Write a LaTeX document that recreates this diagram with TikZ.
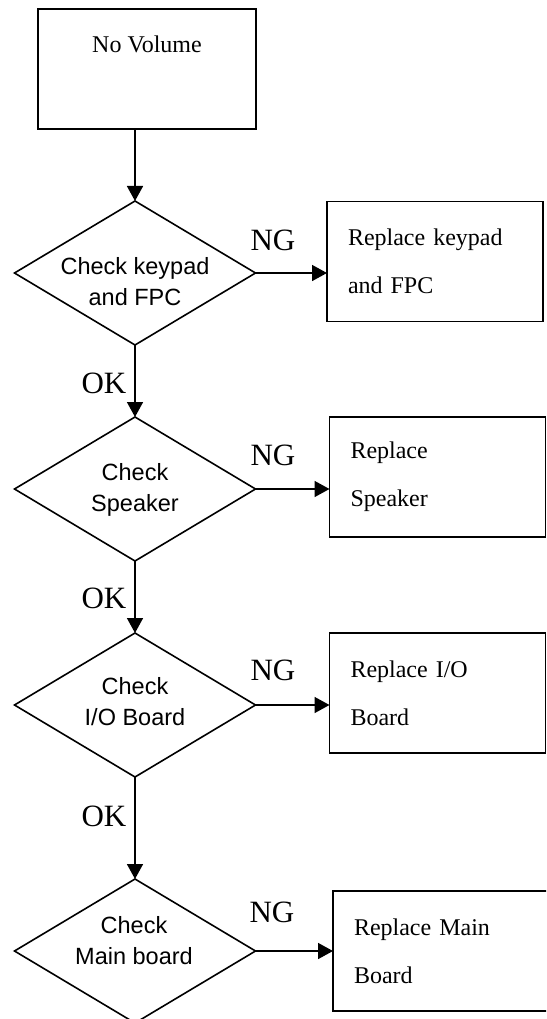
\documentclass[tikz,border=0pt]{standalone}
\usepackage{fontspec}
\setmainfont{Liberation Serif}
\newfontfamily\arialfont{Liberation Sans}
\usetikzlibrary{shapes.geometric,arrows.meta}
\begin{document}
\begin{tikzpicture}[x=1pt,y=-1pt,
  boxnode/.style={draw, line width=1.8pt, rectangle, minimum width=216pt, minimum height=120pt,
    inner ysep=0pt, inner xsep=21pt, outer sep=0pt, text width=174pt, align=left,
    font=\fontsize{24}{48}\selectfont},
  dia/.style={draw, line width=1.6pt, diamond, minimum width=241pt, minimum height=144pt, inner sep=0pt, outer sep=0pt},
  dtext/.style={font=\arialfont\fontsize{23.5}{31}\selectfont, align=center, inner sep=0pt},
  lbl/.style={font=\fontsize{31}{31}\selectfont, inner sep=0pt},
  arr/.style={line width=1.6pt, -{Triangle[length=15pt,width=16pt]}}
]
\useasboundingbox (0,0) rectangle (546,1019);
\clip (0,0) rectangle (546,1019);

% start box
\node[draw, line width=1.8pt, rectangle, minimum width=218pt, minimum height=120pt, inner sep=0pt, outer sep=0pt] (start) at (147,69) {};
\node[font=\fontsize{24}{30}\selectfont, inner sep=0pt] (starttext) at (147,44) {No Volume};

% diamonds
\node[dia] (d1) at (135,273) {};
\node[dia] (d2) at (135,489) {};
\node[dia] (d3) at (135,705) {};
\node[dia] (d4) at (135,951) {};

\node[dtext] (t1) at (135,281.5) {Check keypad\\and FPC};
\node[dtext] (t2) at (135,489.5) {Check\\Speaker};
\node[dtext] (t3) at (135,702) {Check\\I/O Board};
\node[dtext] (t4) at (134,941) {Check\\Main board};

% boxes
\node[boxnode] (b2) at (435,261.5) {Replace keypad\\and FPC};
\node[boxnode] (b3) at (437.5,477) {Replace\\Speaker};
\node[boxnode] (b4) at (437.5,693) {Replace I/O\\Board};
\node[boxnode] (b5) at (441,951) {Replace Main\\Board};

% vertical arrows
\draw[arr] (d1.north |- start.south) -- (d1.north);
\draw[arr] (d1.south) -- (d2.north);
\draw[arr] (d2.south) -- (d3.north);
\draw[arr] (d3.south) -- (d4.north);

% horizontal arrows
\draw[arr] (d1.east) -- (d1.east -| b2.west);
\draw[arr] (d2.east) -- (d2.east -| b3.west);
\draw[arr] (d3.east) -- (d3.east -| b4.west);
\draw[arr] (d4.east) -- (d4.east -| b5.west);

% labels
\node[lbl] (ng1) at (273,240) {NG};
\node[lbl] (ng2) at (273,455) {NG};
\node[lbl] (ng3) at (273,670) {NG};
\node[lbl] (ng4) at (272,912) {NG};
\node[lbl] (ok1) at (104,383) {OK};
\node[lbl] (ok2) at (104,598) {OK};
\node[lbl] (ok3) at (104,816) {OK};
\end{tikzpicture}
\end{document}
